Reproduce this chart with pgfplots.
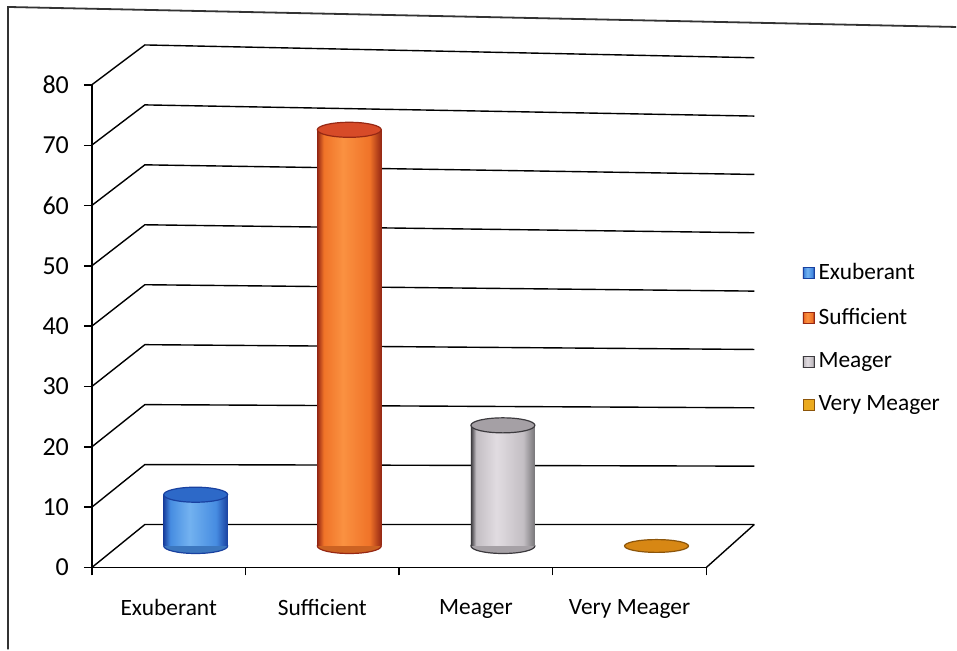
\documentclass[border=0pt]{standalone}
\usepackage{fontspec}
\setmainfont{Carlito}
\usepackage{pgfplots}
\pgfplotsset{compat=1.18}

\definecolor{blueDark}{RGB}{25,65,160}
\definecolor{blueMid}{RGB}{70,140,225}
\definecolor{blueLight}{RGB}{115,178,240}
\definecolor{blueTop}{RGB}{45,105,200}
\definecolor{orDark}{RGB}{150,40,20}
\definecolor{orMid}{RGB}{240,115,40}
\definecolor{orLight}{RGB}{250,145,65}
\definecolor{orTop}{RGB}{215,75,40}
\definecolor{grDark}{RGB}{60,58,62}
\definecolor{grMid}{RGB}{195,190,195}
\definecolor{grLight}{RGB}{225,220,225}
\definecolor{grTop}{RGB}{165,160,165}
\definecolor{vmFill}{RGB}{215,135,20}
\definecolor{vmDark}{RGB}{140,85,10}
\definecolor{legBlue}{RGB}{40,100,200}
\definecolor{legRed}{RGB}{230,55,30}
\definecolor{legGray}{RGB}{135,135,135}
\definecolor{legGold}{RGB}{235,170,30}

% cylinder body shadings (path box maps to 25bp..75bp)
\pgfdeclarehorizontalshading{cylBlue}{100bp}{color(0bp)=(blueDark); color(25bp)=(blueDark); color(30bp)=(blueMid); color(45bp)=(blueLight); color(66bp)=(blueMid); color(75bp)=(blueDark); color(100bp)=(blueDark)}
\pgfdeclarehorizontalshading{cylOrange}{100bp}{color(0bp)=(orDark); color(25bp)=(orDark); color(30bp)=(orMid); color(45bp)=(orLight); color(66bp)=(orMid); color(75bp)=(orDark); color(100bp)=(orDark)}
\pgfdeclarehorizontalshading{cylGray}{100bp}{color(0bp)=(grDark); color(25bp)=(grDark); color(29bp)=(grMid); color(45bp)=(grLight); color(66bp)=(grMid); color(75bp)=(grDark!70); color(100bp)=(grDark!70)}

\begin{document}
\begin{tikzpicture}
% frame and 3D walls (pixel-like units of the reference)
\begin{scope}[x=0.5pt,y=-0.5pt,shift={(-92,-568)}]
  \path (0,0) rectangle (957,650);
  \draw[line width=0.9pt, black!80] (8,650) -- (8,7) -- (957,27);
  \foreach \v in {0,10,...,80} {
    \draw[line width=0.7pt] (92,568-6.04*\v) -- (145,525-6.0*\v) -- (755,525-5.84*\v);
  }
  \draw[line width=0.7pt] (707,568) -- (755,525);
\end{scope}

\begin{axis}[
  scale only axis, width=307.5pt, height=241.5pt,
  at={(0,0)}, anchor=south west,
  xmin=0, xmax=4, ymin=0, ymax=80,
  clip=false, clip marker paths=true,
  axis x line*=bottom, axis y line*=left,
  axis line style={line width=0.7pt, black},
  tick align=outside, major tick length=4pt,
  tick style={black, line width=0.7pt},
  xtick={0,1,2,3,4}, xticklabels={,,,,},
  extra x ticks={0.5,1.5,2.5,3.5},
  extra x tick labels={Exuberant,Sufficient,Meager,Very Meager},
  extra x tick style={major tick length=0pt, tick label style={yshift=-12.5pt}},
  ytick={0,10,...,80},
  tick label style={font=\fontsize{11.7}{14}\selectfont},
  yticklabel style={font=\fontsize{13}{15}\selectfont, xshift=-4pt},
  /pgf/number format/assume math mode=true,
  legend cell align=left,
  legend style={at={(1.156,0.474)}, anchor=west, draw=none, fill=none,
    inner sep=0pt, row sep=8.7pt, font=\fontsize{11.7}{14}\selectfont},
  every axis plot/.append style={xshift=13.5pt, yshift=10.75pt},
  mark size=16pt,
]
% Exuberant
\addplot[forget plot, only marks, mark=*, mark options={yscale=0.235, fill=blueMid!85!black, draw=blueDark, line width=0.6pt}] coordinates {(0.5,0)};
\addplot[ybar, bar width=32pt, bar shift=0pt, shading=cylBlue, draw=none,
  legend image code/.code={\draw[xshift=-13.5pt, yshift=-10.75pt, draw=blueDark, fill=legBlue] (0pt,-2.8pt) rectangle (5.6pt,2.8pt);}]
  coordinates {(0.5,8.5)};
\addlegendentry{Exuberant}
\addplot[forget plot, only marks, mark=*, mark options={yscale=0.235, fill=blueTop, draw=blueDark, line width=0.6pt}] coordinates {(0.5,8.5)};
% Sufficient
\addplot[forget plot, only marks, mark=*, mark options={yscale=0.235, fill=orMid!85!black, draw=orDark, line width=0.6pt}] coordinates {(1.5,0)};
\addplot[ybar, bar width=32pt, bar shift=0pt, shading=cylOrange, draw=none,
  legend image code/.code={\draw[xshift=-13.5pt, yshift=-10.75pt, draw=orDark, fill=legRed] (0pt,-2.8pt) rectangle (5.6pt,2.8pt);}]
  coordinates {(1.5,69)};
\addlegendentry{Sufficient}
\addplot[forget plot, only marks, mark=*, mark options={yscale=0.235, fill=orTop, draw=orDark, line width=0.6pt}] coordinates {(1.5,69)};
% Meager
\addplot[forget plot, only marks, mark=*, mark options={yscale=0.235, fill=grMid!85!black, draw=grDark, line width=0.6pt}] coordinates {(2.5,0)};
\addplot[ybar, bar width=32pt, bar shift=0pt, shading=cylGray, draw=none,
  legend image code/.code={\draw[xshift=-13.5pt, yshift=-10.75pt, draw=grDark, fill=legGray] (0pt,-2.8pt) rectangle (5.6pt,2.8pt);}]
  coordinates {(2.5,20)};
\addlegendentry{Meager}
\addplot[forget plot, only marks, mark=*, mark options={yscale=0.235, fill=grTop, draw=grDark, line width=0.6pt}] coordinates {(2.5,20)};
% Very Meager
\addplot[ybar, bar width=32pt, bar shift=0pt, fill=vmFill, draw=none,
  legend image code/.code={\draw[xshift=-13.5pt, yshift=-10.75pt, draw=vmDark, fill=legGold] (0pt,-2.8pt) rectangle (5.6pt,2.8pt);}]
  coordinates {(3.5,0)};
\addlegendentry{Very Meager}
\addplot[forget plot, only marks, mark=*, mark options={yscale=0.2, fill=vmFill, draw=vmDark, line width=0.6pt}] coordinates {(3.5,0)};
\end{axis}
\end{tikzpicture}
\end{document}
